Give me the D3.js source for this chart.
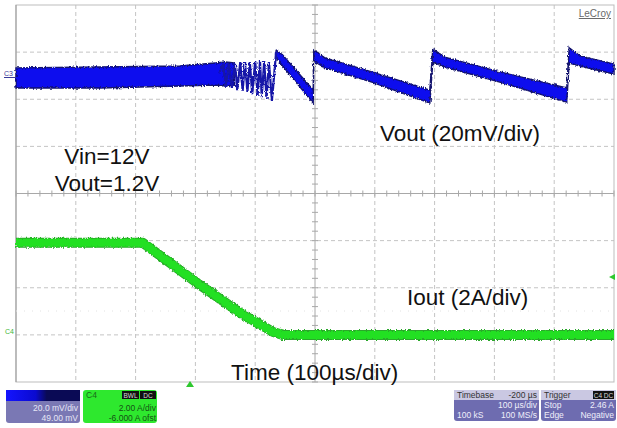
<!DOCTYPE html>
<html>
<head>
<meta charset="utf-8">
<script src="https://cdn.jsdelivr.net/npm/d3@7"></script>
<style>
  body { margin: 0; background: #fff; }
  svg { display: block; font-family: "Liberation Sans", Arial, sans-serif; }
</style>
</head>
<body>
<svg id="scope" width="617" height="428"></svg>
<script>
// Vout (C3, mV) - noisy band before the load step
var vBandTime = [0, 140, 274, 333, 350, 365];
var vBandHi   = [4.3, 4.7, 5.1, 6.4, 6.8, 6.4];
var vBandLo   = [-4.2, -4.2, -3.4, -3.0, -3.4, -3.0];

// ringing during the load release
var vRingTime = [340, 346, 351, 356, 361, 366, 370, 375, 379, 383, 387, 391, 395, 400, 404, 408, 411, 415, 419, 423, 428, 435];
var vRingMv   = [2.0, 6.0, -3.4, 6.4, -4.2, 6.4, -5.1, 6.8, -5.5, 6.8, -5.9, 6.8, -6.8, 7.2, -7.6, 7.2, -8.1, 7.2, -8.9, 6.8, -9.7, 11.1];

// sawtooth after the step (top / bottom edge of the trace)
var vSawTime = [435, 446, 497, 498, 517, 595, 692, 697, 717, 809, 921, 925, 943, 1000];
var vSawHi   = [11.9, 9.8, -5.1, 11.9, 8.5, 2.6, -5.1, 12.3, 8.9, 2.6, -4.2, 12.8, 9.4, 5.9];
var vSawLo   = [8.5, 5.1, -10.6, 7.2, 4.3, -1.7, -10.6, 6.8, 4.7, -1.7, -10.2, 6.4, 5.1, 1.7];

// Iout (C4, A)
var iTime = [0, 212, 303, 375, 430, 446, 1000];
var iAmps = [3.91, 3.91, 2.20, 0.93, 0.12, 0.0, 0.0];

// annotations
var notes = [
  { text: "Vout (20mV/div)", x: 380, y: 141, anchor: "start" },
  { text: "Vin=12V", x: 107, y: 164, anchor: "middle" },
  { text: "Vout=1.2V", x: 107, y: 191, anchor: "middle" },
  { text: "Iout (2A/div)", x: 407, y: 305, anchor: "start" },
  { text: "Time (100\u00b5s/div)", x: 231, y: 380, anchor: "start" }
];

var svg = d3.select("#scope");

var x = d3.scaleLinear().domain([0, 1000]).range([16, 614]);     // µs
var yDiv = d3.scaleLinear().domain([-4, 4]).range([382, 5]);     // divisions
var yV = d3.scaleLinear().domain([-129, 31]).range([382, 5]);    // 20 mV/div, offset 49 mV
var yI = d3.scaleLinear().domain([-2, 14]).range([382, 5]);      // 2 A/div, offset -6 A

var defs = svg.append("defs");
var rough = defs.append("filter").attr("id", "rough")
    .attr("x", "-5%").attr("y", "-30%").attr("width", "110%").attr("height", "160%");
rough.append("feTurbulence").attr("type", "fractalNoise")
    .attr("baseFrequency", "0.9 0.35").attr("numOctaves", 2).attr("seed", 4).attr("result", "n");
rough.append("feDisplacementMap").attr("in", "SourceGraphic").attr("in2", "n")
    .attr("scale", 3.5).attr("xChannelSelector", "R").attr("yChannelSelector", "G");

// grid
var grid = svg.append("g");
var xt = d3.range(100, 1000, 100), yt = d3.range(-3, 4, 1);
grid.selectAll(".vx").data(xt.filter(function(d) { return d !== 500; })).enter().append("line")
    .attr("x1", function(d) { return x(d); }).attr("x2", function(d) { return x(d); })
    .attr("y1", yDiv(4)).attr("y2", yDiv(-4))
    .attr("stroke", "#c4c4c4").attr("stroke-dasharray", "4,3");
grid.selectAll(".hy").data(yt.filter(function(d) { return d !== 0; })).enter().append("line")
    .attr("x1", x(0)).attr("x2", x(1000))
    .attr("y1", function(d) { return yDiv(d); }).attr("y2", function(d) { return yDiv(d); })
    .attr("stroke", "#c4c4c4").attr("stroke-dasharray", "4,3");
grid.append("line").attr("x1", x(0)).attr("x2", x(1000)).attr("y1", yDiv(0)).attr("y2", yDiv(0))
    .attr("stroke", "#a8a8a8");
grid.append("line").attr("x1", x(500)).attr("x2", x(500)).attr("y1", yDiv(4)).attr("y2", yDiv(-4))
    .attr("stroke", "#a8a8a8");
grid.append("rect").attr("x", x(0)).attr("y", yDiv(4))
    .attr("width", x(1000) - x(0)).attr("height", yDiv(-4) - yDiv(4))
    .attr("fill", "none").attr("stroke", "#bdbdbd");
grid.append("line").attr("x1", x(0)).attr("x2", x(0)).attr("y1", yDiv(4)).attr("y2", yDiv(-4))
    .attr("stroke", "#999");
// minor ticks on the centre lines
grid.selectAll(".mx").data(d3.range(0, 1001, 20)).enter().append("line")
    .attr("x1", function(d) { return x(d); }).attr("x2", function(d) { return x(d); })
    .attr("y1", yDiv(0) - 3).attr("y2", yDiv(0) + 3).attr("stroke", "#a8a8a8");
grid.selectAll(".my").data(d3.range(-4, 4.01, 0.2)).enter().append("line")
    .attr("x1", x(500) - 3).attr("x2", x(500) + 3)
    .attr("y1", function(d) { return yDiv(d); }).attr("y2", function(d) { return yDiv(d); })
    .attr("stroke", "#a8a8a8");
grid.append("line").attr("x1", x(0)).attr("x2", x(1000)).attr("y1", 311).attr("y2", 311)
    .attr("stroke", "#e2e2e2").attr("stroke-dasharray", "1,7");

// Iout trace
var iData = iTime.map(function(t, i) { return { t: t, a: iAmps[i] }; });
var iLine = d3.line().x(function(d) { return x(d.t); }).y(function(d) { return yI(d.a); });
var ig = svg.append("g").attr("filter", "url(#rough)");
ig.append("path").datum(iData).attr("d", iLine)
    .attr("fill", "none").attr("stroke", "#2aa82a").attr("stroke-width", 10)
    .attr("stroke-linejoin", "round");
ig.append("path").datum(iData).attr("d", iLine)
    .attr("fill", "none").attr("stroke", "#22e022").attr("stroke-width", 8)
    .attr("stroke-linejoin", "round");

// Vout trace
var band = d3.area().x(function(d) { return x(d.t); })
    .y0(function(d) { return yV(d.lo); }).y1(function(d) { return yV(d.hi); });
var vBand = vBandTime.map(function(t, i) { return { t: t, hi: vBandHi[i], lo: vBandLo[i] }; });
var vSaw = vSawTime.map(function(t, i) { return { t: t, hi: vSawHi[i], lo: vSawLo[i] }; });
var vRing = vRingTime.map(function(t, i) { return { t: t, v: vRingMv[i] }; });
var vg = svg.append("g").attr("filter", "url(#rough)");
vg.selectAll(".band").data([vBand, vSaw]).enter().append("path")
    .attr("d", band).attr("fill", "#0808ee").attr("stroke", "#12126e").attr("stroke-width", 1.4);
vg.append("path").datum(vRing)
    .attr("d", d3.line().x(function(d) { return x(d.t); }).y(function(d) { return yV(d.v); }))
    .attr("fill", "none").attr("stroke", "#1616a8").attr("stroke-width", 2.2);

// channel markers
svg.append("text").attr("x", 4).attr("y", 76).attr("font-size", 7).attr("fill", "#3a3a9a").text("C3");
svg.append("line").attr("x1", 4).attr("x2", 16).attr("y1", 77.5).attr("y2", 77.5).attr("stroke", "#3a3a9a");
svg.append("text").attr("x", 5).attr("y", 334).attr("font-size", 7).attr("fill", "#3bb83b").text("C4");
svg.append("path").attr("d", "M190,381 L186,387 L194,387 Z").attr("fill", "#2ec82e");
svg.append("path").attr("d", "M609,277 L615,274 L615,280 Z").attr("fill", "#2ec82e");

svg.append("text").attr("x", 611).attr("y", 17).attr("text-anchor", "end")
    .attr("font-size", 10).attr("fill", "#6a6a6a").attr("text-decoration", "underline").text("LeCroy");

svg.selectAll(".note").data(notes).enter().append("text")
    .attr("x", function(d) { return d.x; }).attr("y", function(d) { return d.y; })
    .attr("text-anchor", function(d) { return d.anchor; })
    .attr("font-size", 22.5).attr("fill", "#111").text(function(d) { return d.text; });

// info boxes at the bottom
var grad = defs.append("linearGradient").attr("id", "c3head");
grad.append("stop").attr("offset", "0%").attr("stop-color", "#1414ff");
grad.append("stop").attr("offset", "40%").attr("stop-color", "#0a0ad0");
grad.append("stop").attr("offset", "55%").attr("stop-color", "#0a0a55");
grad.append("stop").attr("offset", "100%").attr("stop-color", "#0a0a55");

function box(bx, by, w, h, fill) {
  return svg.append("rect").attr("x", bx).attr("y", by).attr("width", w).attr("height", h)
      .attr("rx", 3).attr("fill", fill);
}
function label(tx, ty, txt, fill, anchor, size) {
  return svg.append("text").attr("x", tx).attr("y", ty).attr("text-anchor", anchor || "start")
      .attr("font-size", size || 8.5).attr("fill", fill).text(txt);
}
function badge(bx, by, w, txt) {
  svg.append("rect").attr("x", bx).attr("y", by).attr("width", w).attr("height", 8).attr("fill", "#111");
  label(bx + w / 2, by + 6.5, txt, "#d8d8d8", "middle", 6.5);
}

box(6, 390, 74, 33, "#7a78b4");
svg.append("rect").attr("x", 6).attr("y", 390).attr("width", 74).attr("height", 11).attr("fill", "url(#c3head)");
label(78, 411, "20.0 mV/div", "#e6e6f6", "end");
label(78, 421, "49.00 mV", "#e6e6f6", "end");

box(83, 390, 74, 33, "#2ee82e");
label(86, 398, "C4", "#1a6a1a");
badge(122, 391, 17, "BWL");
badge(140, 391, 16, "DC");
label(156, 411, "2.00 A/div", "#145214", "end");
label(156, 421, "-6.000 A ofst", "#145214", "end");

box(454, 390, 85, 31, "#6e6cb0");
svg.append("rect").attr("x", 454).attr("y", 390).attr("width", 85).attr("height", 10).attr("fill", "#cac8e2");
label(457, 398, "Timebase", "#333");
label(537, 398, "-200 \u00b5s", "#333", "end");
label(537, 408, "100 \u00b5s/div", "#eeeefa", "end");
label(457, 418, "100 kS", "#eeeefa");
label(537, 418, "100 MS/s", "#eeeefa", "end");

box(541, 390, 75, 31, "#6e6cb0");
svg.append("rect").attr("x", 541).attr("y", 390).attr("width", 75).attr("height", 10).attr("fill", "#cac8e2");
label(544, 398, "Trigger", "#333");
badge(593, 391, 21, "C4 DC");
label(544, 408, "Stop", "#eeeefa");
label(614, 408, "2.46 A", "#eeeefa", "end");
label(544, 418, "Edge", "#eeeefa");
label(614, 418, "Negative", "#eeeefa", "end");
</script>
</body>
</html>
